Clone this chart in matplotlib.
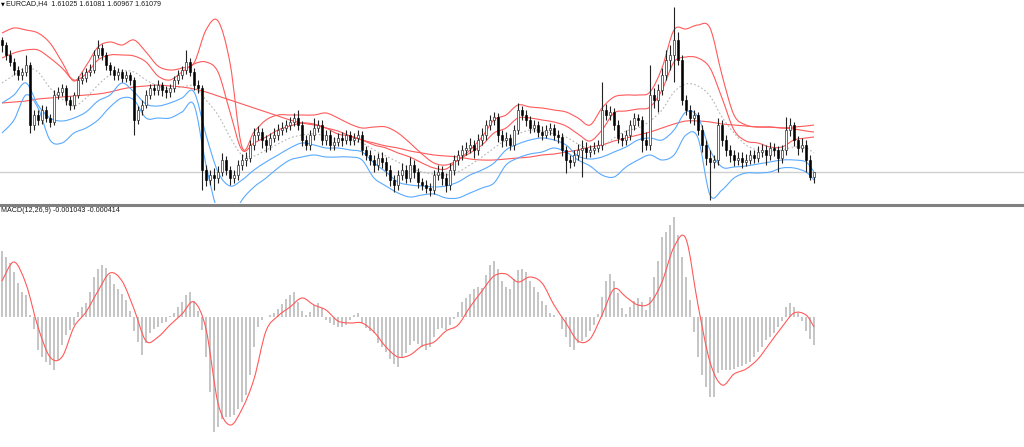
import numpy as np
import matplotlib
matplotlib.use("Agg")
import matplotlib.pyplot as plt
from matplotlib.lines import Line2D
from matplotlib.path import Path
from matplotlib.patches import PathPatch

#   Labels shown in the terminal window
symbol_label = "EURCAD,H4  1.61025 1.61081 1.60967 1.61079"
macd_label = "MACD(12,26,9) -0.001043 -0.000414"
last_price = 1.6108
first_open = 1.6240

#   H4 candles (close / high / low)
close = [1.6235, 1.6225, 1.6218, 1.6210, 1.6205, 1.6208, 1.6215, 1.6155, 1.6165, 1.6160,
         1.6170, 1.6162, 1.6158, 1.6185, 1.6188, 1.6192, 1.6180, 1.6175, 1.6185, 1.6200,
         1.6202, 1.6208, 1.6210, 1.6225, 1.6232, 1.6225, 1.6215, 1.6210, 1.6205, 1.6208,
         1.6202, 1.6205, 1.6200, 1.6160, 1.6170, 1.6175, 1.6185, 1.6192, 1.6190, 1.6195,
         1.6190, 1.6188, 1.6192, 1.6200, 1.6205, 1.6210, 1.6218, 1.6208, 1.6195, 1.6192,
         1.6110, 1.6100, 1.6105, 1.6102, 1.6108, 1.6120, 1.6110, 1.6102, 1.6105, 1.6115,
         1.6120, 1.6122, 1.6135, 1.6145, 1.6148, 1.6140, 1.6135, 1.6142, 1.6145, 1.6150,
         1.6152, 1.6155, 1.6158, 1.6162, 1.6155, 1.6140, 1.6135, 1.6145, 1.6152, 1.6155,
         1.6140, 1.6145, 1.6135, 1.6138, 1.6142, 1.6140, 1.6145, 1.6140, 1.6142, 1.6145,
         1.6130, 1.6125, 1.6120, 1.6115, 1.6122, 1.6118, 1.6110, 1.6100, 1.6095, 1.6105,
         1.6110, 1.6102, 1.6115, 1.6108, 1.6098, 1.6095, 1.6092, 1.6090, 1.6105, 1.6108,
         1.6102, 1.6095, 1.6110, 1.6120, 1.6125, 1.6130, 1.6132, 1.6135, 1.6130, 1.6140,
         1.6145, 1.6155, 1.6160, 1.6163, 1.6145, 1.6140, 1.6142, 1.6135, 1.6150, 1.6170,
         1.6165, 1.6160, 1.6152, 1.6155, 1.6148, 1.6145, 1.6150, 1.6152, 1.6145, 1.6143,
         1.6130, 1.6120, 1.6118, 1.6125, 1.6130, 1.6132, 1.6128, 1.6130, 1.6132, 1.6135,
         1.6170, 1.6165, 1.6168, 1.6155, 1.6142, 1.6140, 1.6145, 1.6155, 1.6162, 1.6160,
         1.6140, 1.6135, 1.6185, 1.6180, 1.6190, 1.6205, 1.6220, 1.6225, 1.6240, 1.6220,
         1.6180, 1.6170, 1.6162, 1.6165, 1.6150, 1.6135, 1.6122, 1.6118, 1.6120, 1.6155,
         1.6140, 1.6130, 1.6125, 1.6120, 1.6122, 1.6118, 1.6120, 1.6125, 1.6122, 1.6128,
         1.6130, 1.6125, 1.6132, 1.6130, 1.6122, 1.6130, 1.6150, 1.6155, 1.6140, 1.6132,
         1.6135, 1.6120, 1.6103, 1.6108]

high = [1.6243, 1.6238, 1.6230, 1.6222, 1.6214, 1.6212, 1.6225, 1.6218, 1.6170, 1.6170,
        1.6175, 1.6174, 1.6166, 1.6190, 1.6193, 1.6196, 1.6195, 1.6184, 1.6188, 1.6204,
        1.6208, 1.6212, 1.6216, 1.6230, 1.6240, 1.6236, 1.6228, 1.6218, 1.6214, 1.6212,
        1.6211, 1.6209, 1.6208, 1.6203, 1.6174, 1.6180, 1.6190, 1.6196, 1.6196, 1.6200,
        1.6198, 1.6194, 1.6196, 1.6204, 1.6210, 1.6214, 1.6230, 1.6222, 1.6212, 1.6200,
        1.6195, 1.6115, 1.6110, 1.6112, 1.6114, 1.6127, 1.6124, 1.6114, 1.6110, 1.6120,
        1.6126, 1.6128, 1.6140, 1.6152, 1.6154, 1.6152, 1.6145, 1.6147, 1.6152, 1.6156,
        1.6158, 1.6160, 1.6163, 1.6167, 1.6170, 1.6159, 1.6145, 1.6150, 1.6162, 1.6160,
        1.6160, 1.6150, 1.6150, 1.6143, 1.6147, 1.6148, 1.6150, 1.6149, 1.6147, 1.6150,
        1.6149, 1.6134, 1.6130, 1.6125, 1.6127, 1.6128, 1.6123, 1.6115, 1.6105, 1.6110,
        1.6117, 1.6115, 1.6123, 1.6120, 1.6112, 1.6102, 1.6100, 1.6097, 1.6110, 1.6115,
        1.6114, 1.6107, 1.6117, 1.6125, 1.6130, 1.6135, 1.6138, 1.6142, 1.6140, 1.6146,
        1.6152, 1.6160, 1.6165, 1.6168, 1.6167, 1.6150, 1.6148, 1.6146, 1.6155, 1.6177,
        1.6174, 1.6170, 1.6164, 1.6160, 1.6159, 1.6154, 1.6155, 1.6157, 1.6156, 1.6150,
        1.6147, 1.6134, 1.6125, 1.6130, 1.6136, 1.6140, 1.6138, 1.6135, 1.6138, 1.6140,
        1.6198, 1.6176, 1.6174, 1.6172, 1.6160, 1.6147, 1.6150, 1.6160, 1.6167, 1.6166,
        1.6164, 1.6148, 1.6215, 1.6192, 1.6196, 1.6212, 1.6230, 1.6235, 1.6273, 1.6248,
        1.6225, 1.6185, 1.6175, 1.6170, 1.6168, 1.6155, 1.6140, 1.6130, 1.6125, 1.6162,
        1.6160, 1.6145, 1.6135, 1.6130, 1.6128, 1.6128, 1.6126, 1.6130, 1.6130, 1.6134,
        1.6136, 1.6135, 1.6138, 1.6137, 1.6134, 1.6135, 1.6163, 1.6162, 1.6158, 1.6144,
        1.6142, 1.6140, 1.6125, 1.6108]

low = [1.6228, 1.6220, 1.6214, 1.6205, 1.6200, 1.6200, 1.6204, 1.6147, 1.6150, 1.6155,
       1.6156, 1.6158, 1.6153, 1.6155, 1.6181, 1.6184, 1.6175, 1.6170, 1.6171, 1.6182,
       1.6196, 1.6198, 1.6204, 1.6207, 1.6222, 1.6220, 1.6210, 1.6205, 1.6200, 1.6200,
       1.6198, 1.6198, 1.6195, 1.6145, 1.6156, 1.6165, 1.6172, 1.6181, 1.6185, 1.6185,
       1.6184, 1.6182, 1.6183, 1.6188, 1.6196, 1.6201, 1.6206, 1.6204, 1.6190, 1.6187,
       1.6090, 1.6094, 1.6095, 1.6090, 1.6097, 1.6104, 1.6105, 1.6095, 1.6097, 1.6100,
       1.6110, 1.6114, 1.6118, 1.6130, 1.6140, 1.6132, 1.6128, 1.6130, 1.6138, 1.6140,
       1.6145, 1.6148, 1.6150, 1.6154, 1.6150, 1.6134, 1.6130, 1.6130, 1.6140, 1.6148,
       1.6135, 1.6135, 1.6130, 1.6130, 1.6134, 1.6134, 1.6136, 1.6135, 1.6135, 1.6138,
       1.6125, 1.6120, 1.6115, 1.6108, 1.6110, 1.6112, 1.6104, 1.6094, 1.6088, 1.6090,
       1.6100, 1.6097, 1.6098, 1.6102, 1.6092, 1.6090, 1.6087, 1.6084, 1.6086, 1.6100,
       1.6095, 1.6088, 1.6090, 1.6105, 1.6115, 1.6120, 1.6125, 1.6127, 1.6122, 1.6125,
       1.6135, 1.6140, 1.6150, 1.6155, 1.6138, 1.6133, 1.6134, 1.6130, 1.6130, 1.6146,
       1.6160, 1.6154, 1.6147, 1.6148, 1.6143, 1.6140, 1.6142, 1.6145, 1.6140, 1.6137,
       1.6124, 1.6107, 1.6112, 1.6114, 1.6120, 1.6103, 1.6122, 1.6123, 1.6126, 1.6128,
       1.6130, 1.6160, 1.6160, 1.6150, 1.6137, 1.6134, 1.6135, 1.6140, 1.6150, 1.6154,
       1.6128, 1.6130, 1.6130, 1.6172, 1.6168, 1.6185, 1.6200, 1.6210, 1.6198, 1.6215,
       1.6175, 1.6165, 1.6157, 1.6155, 1.6145, 1.6128, 1.6115, 1.6080, 1.6112, 1.6115,
       1.6134, 1.6124, 1.6118, 1.6114, 1.6115, 1.6112, 1.6114, 1.6116, 1.6117, 1.6118,
       1.6123, 1.6115, 1.6120, 1.6124, 1.6108, 1.6117, 1.6125, 1.6144, 1.6134, 1.6125,
       1.6128, 1.6108, 1.6100, 1.6097]

#   Indicator lines, sampled every third bar
band_bar = list(range(0, 202, 3)) + [203]

bb_upper2 = [1.6247, 1.6252, 1.6250, 1.6247, 1.6237, 1.6218, 1.6199, 1.6214, 1.6233, 1.6238,
             1.6235, 1.6240, 1.6228, 1.6214, 1.6210, 1.6212, 1.6217, 1.6250, 1.6259, 1.6217,
             1.6133, 1.6148, 1.6160, 1.6165, 1.6165, 1.6165, 1.6165, 1.6167, 1.6162, 1.6156,
             1.6152, 1.6153, 1.6153, 1.6147, 1.6137, 1.6126, 1.6117, 1.6115, 1.6120, 1.6130,
             1.6143, 1.6160, 1.6165, 1.6175, 1.6173, 1.6172, 1.6170, 1.6168, 1.6162, 1.6155,
             1.6172, 1.6183, 1.6185, 1.6185, 1.6188, 1.6212, 1.6250, 1.6251, 1.6255, 1.6252,
             1.6205, 1.6165, 1.6155, 1.6153, 1.6153, 1.6152, 1.6153, 1.6154, 1.6155]

bb_upper1 = [1.6222, 1.6227, 1.6230, 1.6230, 1.6222, 1.6212, 1.6200, 1.6206, 1.6220, 1.6225,
             1.6225, 1.6224, 1.6218, 1.6204, 1.6200, 1.6208, 1.6216, 1.6218, 1.6208, 1.6168,
             1.6130, 1.6137, 1.6143, 1.6150, 1.6154, 1.6157, 1.6156, 1.6152, 1.6146, 1.6144,
             1.6140, 1.6135, 1.6132, 1.6127, 1.6123, 1.6117, 1.6112, 1.6111, 1.6120, 1.6127,
             1.6135, 1.6147, 1.6152, 1.6162, 1.6162, 1.6160, 1.6158, 1.6154, 1.6146, 1.6139,
             1.6150, 1.6167, 1.6169, 1.6171, 1.6173, 1.6190, 1.6218, 1.6223, 1.6222, 1.6212,
             1.6182, 1.6150, 1.6139, 1.6137, 1.6133, 1.6133, 1.6140, 1.6142, 1.6143]

bb_mid = [1.6197, 1.6205, 1.6212, 1.6208, 1.6192, 1.6181, 1.6174, 1.6182, 1.6195, 1.6205,
          1.6209, 1.6208, 1.6200, 1.6194, 1.6191, 1.6193, 1.6194, 1.6180, 1.6165, 1.6143,
          1.6125, 1.6124, 1.6130, 1.6136, 1.6142, 1.6145, 1.6146, 1.6144, 1.6140, 1.6139,
          1.6137, 1.6130, 1.6124, 1.6118, 1.6112, 1.6108, 1.6106, 1.6105, 1.6108, 1.6115,
          1.6123, 1.6132, 1.6140, 1.6146, 1.6150, 1.6149, 1.6146, 1.6143, 1.6136, 1.6131,
          1.6133, 1.6142, 1.6149, 1.6152, 1.6159, 1.6170, 1.6188, 1.6196, 1.6194, 1.6184,
          1.6163, 1.6147, 1.6135, 1.6130, 1.6129, 1.6130, 1.6133, 1.6132, 1.6127]

bb_lower1 = [1.6177, 1.6185, 1.6197, 1.6175, 1.6162, 1.6159, 1.6162, 1.6168, 1.6179, 1.6185,
             1.6197, 1.6188, 1.6176, 1.6174, 1.6177, 1.6182, 1.6188, 1.6145, 1.6108, 1.6094,
             1.6100, 1.6110, 1.6118, 1.6125, 1.6132, 1.6137, 1.6135, 1.6132, 1.6132, 1.6130,
             1.6128, 1.6117, 1.6108, 1.6098, 1.6095, 1.6094, 1.6093, 1.6094, 1.6098, 1.6105,
             1.6110, 1.6117, 1.6130, 1.6136, 1.6140, 1.6142, 1.6140, 1.6135, 1.6124, 1.6121,
             1.6123, 1.6128, 1.6133, 1.6140, 1.6142, 1.6140, 1.6150, 1.6168, 1.6163, 1.6130,
             1.6113, 1.6113, 1.6114, 1.6116, 1.6118, 1.6120, 1.6120, 1.6118, 1.6108]

bb_lower2 = [1.6147, 1.6160, 1.6185, 1.6172, 1.6140, 1.6137, 1.6147, 1.6152, 1.6160, 1.6173,
             1.6182, 1.6180, 1.6162, 1.6162, 1.6162, 1.6168, 1.6175, 1.6115, 1.6068, 1.6058,
             1.6080, 1.6093, 1.6102, 1.6112, 1.6120, 1.6123, 1.6125, 1.6123, 1.6123, 1.6123,
             1.6120, 1.6102, 1.6094, 1.6087, 1.6083, 1.6085, 1.6086, 1.6082, 1.6082, 1.6087,
             1.6092, 1.6097, 1.6115, 1.6122, 1.6126, 1.6128, 1.6132, 1.6128, 1.6120, 1.6114,
             1.6105, 1.6103, 1.6113, 1.6120, 1.6125, 1.6120, 1.6125, 1.6145, 1.6142, 1.6085,
             1.6090, 1.6102, 1.6107, 1.6107, 1.6108, 1.6112, 1.6112, 1.6108, 1.6100]

slow_ma = [1.6177, 1.6178, 1.6179, 1.6181, 1.6182, 1.6183, 1.6184, 1.6185, 1.6186, 1.6188,
           1.6191, 1.6193, 1.6194, 1.6195, 1.6194, 1.6193, 1.6191, 1.6188, 1.6184, 1.6180,
           1.6176, 1.6172, 1.6168, 1.6164, 1.6160, 1.6157, 1.6155, 1.6152, 1.6149, 1.6144,
           1.6140, 1.6137, 1.6134, 1.6132, 1.6129, 1.6127, 1.6125, 1.6124, 1.6123, 1.6121,
           1.6120, 1.6120, 1.6121, 1.6122, 1.6123, 1.6125, 1.6126, 1.6128, 1.6130, 1.6133,
           1.6135, 1.6139, 1.6142, 1.6145, 1.6148, 1.6152, 1.6156, 1.6159, 1.6159, 1.6158,
           1.6156, 1.6155, 1.6154, 1.6153, 1.6153, 1.6152, 1.6151, 1.6149, 1.6148]

#   MACD(12,26,9) histogram per bar and signal line, in units of 1e-5
macd_hist_e5 = [264, 240, 216, 180, 136, 100, 88, 8, -48, -132,
                -160, -180, -192, -212, -172, -112, -72, -52, -32, 20,
                40, 56, 100, 160, 192, 208, 196, 168, 132, 112,
                92, 68, 24, -56, -100, -152, -104, -64, -48, -40,
                -24, -20, 4, 16, 40, 60, 88, 100, 64, 24,
                -52, -160, -300, -460, -440, -408, -400, -400, -392, -368,
                -340, -312, -232, -120, -40, -12, 0, 8, 16, 32,
                52, 72, 88, 100, 60, 24, 8, 20, 48, 56,
                36, -12, -24, -32, -40, -40, -32, -12, 8, 16,
                -24, -44, -56, -64, -104, -120, -140, -168, -188, -200,
                -160, -144, -112, -96, -108, -120, -132, -120, -80, -48,
                -44, -52, -32, -8, 20, 60, 76, 92, 112, 120,
                116, 168, 208, 224, 192, 144, 120, 112, 152, 188,
                192, 180, 144, 120, 100, 64, 48, 16, 8, 0,
                -48, -80, -120, -132, -104, -96, -80, -56, -32, 12,
                80, 144, 172, 144, 96, 36, 12, 40, 64, 76,
                60, 28, 80, 160, 224, 320, 340, 368, 400, 328,
                240, 160, 68, -60, -160, -232, -280, -320, -320, -224,
                -212, -212, -212, -208, -200, -196, -188, -180, -160, -140,
                -120, -92, -80, -64, -40, -16, 40, 56, 40, 16,
                -16, -56, -88, -112]

macd_signal_e5 = [144, 220, 132, -40, -160, -160, -40, 20, 104, 176,
                  144, 32, -96, -80, -32, 12, 60, -48, -344, -432,
                  -368, -248, -56, 4, 40, 76, 48, 28, -16, -24,
                  -24, -60, -120, -160, -152, -116, -100, -56, -32, 40,
                  104, 164, 172, 140, 160, 136, 48, -24, -96, -88,
                  8, 112, 80, 48, 56, 140, 280, 312, 48, -180,
                  -272, -228, -208, -168, -104, -40, 16, 8, -40]


#   Draw a smooth curve through the sampled points (Catmull-Rom as cubic Beziers)
def smooth_line(ax, x, y, **kw):
    p = np.column_stack([x, y]).astype(float)
    ext = np.vstack([p[0], p, p[-1]])
    verts = [p[0]]
    codes = [Path.MOVETO]
    for i in range(len(p) - 1):
        p0, p1, p2, p3 = ext[i], ext[i + 1], ext[i + 2], ext[i + 3]
        verts += [p1 + (p2 - p0) / 6, p2 - (p3 - p1) / 6, p2]
        codes += [Path.CURVE4] * 3
    ax.add_patch(PathPatch(Path(verts, codes), fill=False, **kw))


close = np.array(close)
opens = np.concatenate([[first_open], close[:-1]])
high = np.array(high)
low = np.array(low)
bars = np.arange(len(close))

fig = plt.figure(figsize=(10.24, 4.47), dpi=100)
fig.patch.set_facecolor("white")

#   Price window
ax = fig.add_axes([0, 244 / 447, 1, 203 / 447])
ax.set_xlim(-0.5, 255.5)
ax.set_ylim(1.6077, 1.6280)
ax.axis("off")

ax.axhline(last_price, color="#d0d0d0", lw=1.0, zorder=1)

red = "#ff5a5a"
blue = "#5aaaff"
smooth_line(ax, band_bar, slow_ma, edgecolor=red, lw=0.8, zorder=2)
smooth_line(ax, band_bar, bb_upper2, edgecolor=red, lw=0.8, zorder=2)
smooth_line(ax, band_bar, bb_upper1, edgecolor=red, lw=0.8, zorder=2)
smooth_line(ax, band_bar, bb_mid, edgecolor="#b4b4b4", lw=0.8, ls=(0, (1.5, 2)), zorder=2)
smooth_line(ax, band_bar, bb_lower1, edgecolor=blue, lw=0.8, zorder=2)
smooth_line(ax, band_bar, bb_lower2, edgecolor=blue, lw=0.8, zorder=2)

#   Candles: wicks then bodies
ax.vlines(bars, low, high, color="#222222", lw=0.8, zorder=3)
bull = close >= opens
body_lo = np.minimum(opens, close)
body_h = np.maximum(np.abs(close - opens), 0.00008)
ax.bar(bars[~bull], body_h[~bull], bottom=body_lo[~bull], width=0.6,
       color="#000000", edgecolor="#000000", lw=0.4, zorder=4)
ax.bar(bars[bull], body_h[bull], bottom=body_lo[bull], width=0.6,
       color="#ffffff", edgecolor="#333333", lw=0.5, zorder=4)

#   MACD window
ax2 = fig.add_axes([0, 0, 1, 241 / 447])
ax2.set_xlim(-0.5, 255.5)
ax2.set_ylim(-0.0052, 0.00444)
ax2.axis("off")
ax2.bar(bars, np.array(macd_hist_e5) * 1e-5, width=0.7, color="#c6c6c6",
        linewidth=0, antialiased=False, zorder=2)
smooth_line(ax2, band_bar, np.array(macd_signal_e5) * 1e-5, edgecolor=red, lw=0.8, zorder=3)

#   Window separator
fig.add_artist(Line2D([0, 1], [1 - 204.5 / 447, 1 - 204.5 / 447],
                      color="#808080", lw=2.2, transform=fig.transFigure))

fig.text(0.5 / 1024, 1 - 3.5 / 447, "\u25bc", fontsize=3.5, color="#000000",
         family="DejaVu Sans", va="center", ha="left")
fig.text(6 / 1024, 1 - 4 / 447, symbol_label, fontsize=5.1, color="#1a1a1a",
         family="Liberation Sans", va="center", ha="left")
fig.text(1 / 1024, 1 - 211 / 447, macd_label, fontsize=5.1, color="#1a1a1a",
         family="Liberation Sans", va="center", ha="left")

fig.savefig("out.png", dpi=100, facecolor="white")
